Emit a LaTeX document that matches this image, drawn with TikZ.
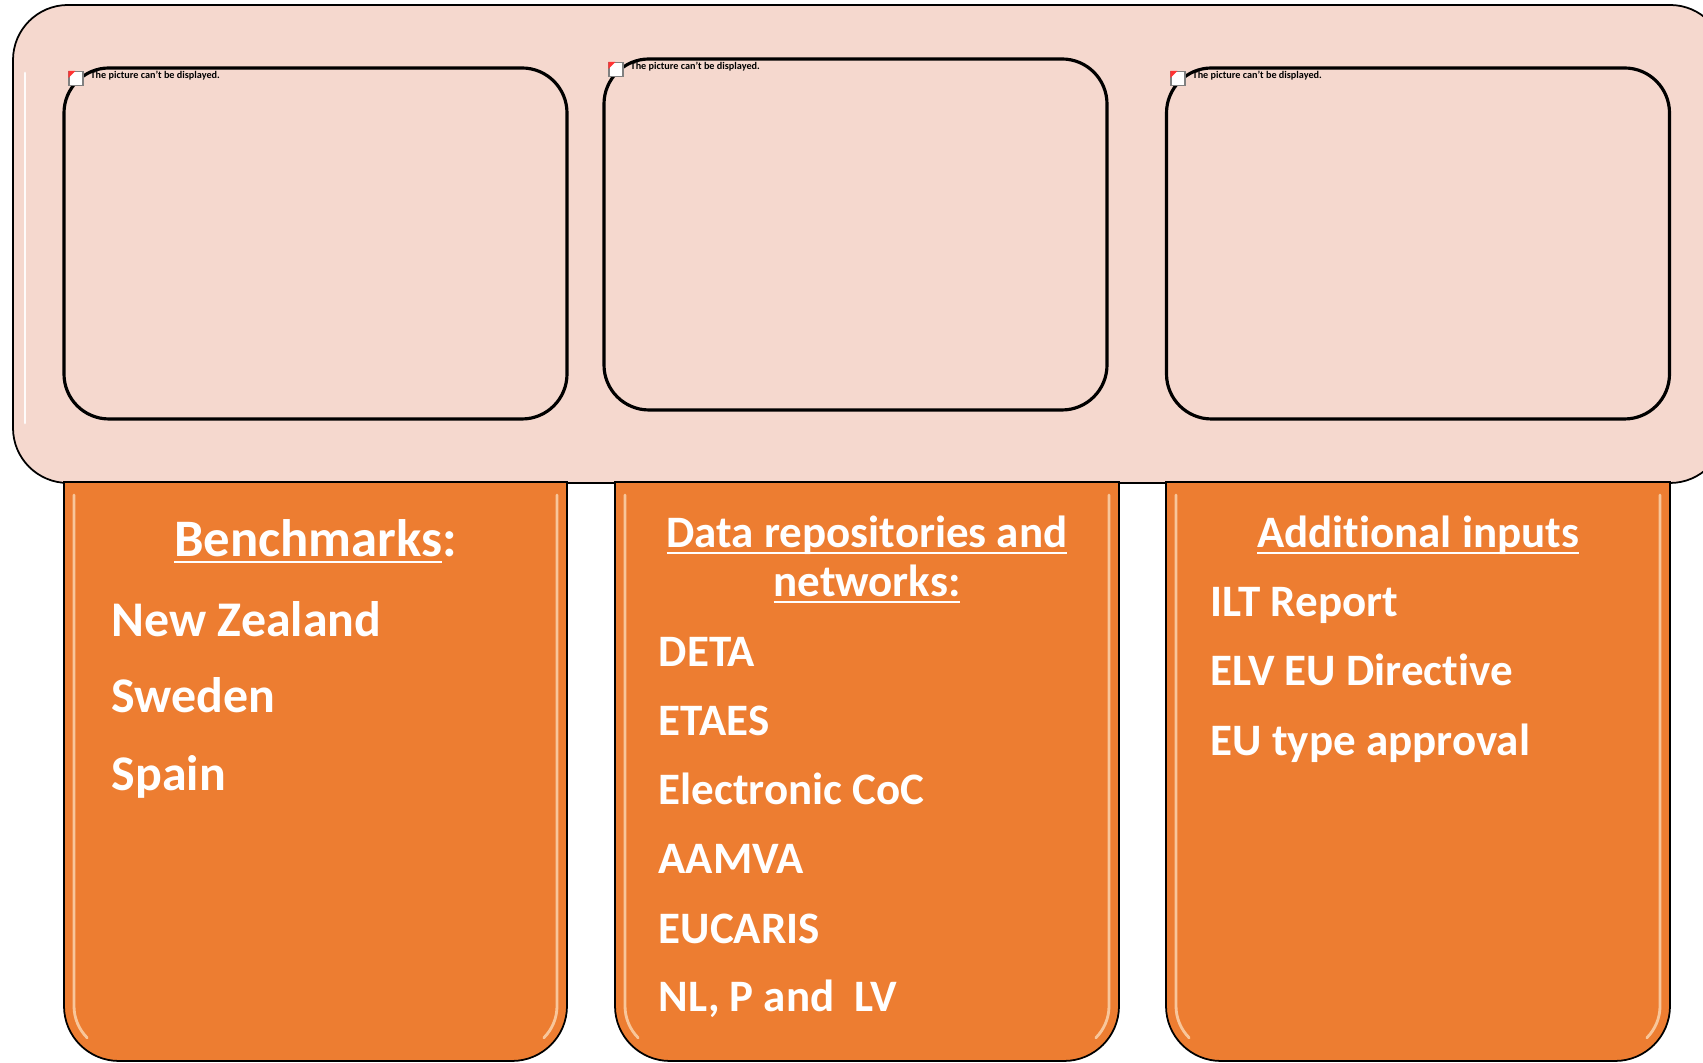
\documentclass[tikz,border=0pt]{standalone}
\usepackage{fontspec}
\setmainfont{Carlito}[Ligatures={TeX,NoCommon}]
\usepackage{xcolor}
\usepackage{tikz}

\definecolor{pale}{HTML}{F5D8CE}
\definecolor{accent}{HTML}{ED7D31}
\definecolor{gloss}{HTML}{FDE6C8}

\newcommand\uln[1]{\underline{\smash{#1}}}

\tikzset{
	frame/.style={draw=black, line width=0.5pt, fill=pale, rounded corners=0.55cm},
	picbox/.style={draw=black, line width=0.9pt, rounded corners=0.45cm, minimum width=5.03cm, minimum height=3.51cm},
	panel/.style={draw=black, line width=0.5pt, fill=accent},
	shine/.style={draw=gloss, line width=0.8pt, line cap=round, opacity=0.7},
	head/.style={text=white, font=\bfseries\fontsize{12.8}{14}\selectfont, anchor=base, inner sep=0pt},
	item/.style={text=white, font=\bfseries\fontsize{12.8}{14}\selectfont, anchor=base west, inner sep=0pt},
	large/.style={font=\bfseries\fontsize{14.2}{17}\selectfont},
	broken/.style={font=\bfseries\fontsize{2.9}{3.2}\selectfont, anchor=west, inner sep=0pt},
	icon/.style={draw=gray, fill=white, line width=0.3pt, minimum size=0.14cm, inner sep=0pt}
}

\begin{document}
\begin{tikzpicture}
		\useasboundingbox (0,0) rectangle (17.03,10.63);
		\clip (0,0) rectangle (17.03,10.63);
		% frame with the three picture boxes
		\draw
		node[frame, minimum width=17.12cm, minimum height=4.78cm] at (8.69,8.19) (frame) {}
		node[picbox] at (3.155,8.195) (pic1) {}
		node[picbox] at (8.555,8.285) (pic2) {}
		node[picbox] at (14.18,8.195) (pic3) {};
		\draw[shine, draw=white, opacity=0.9] (0.25,9.9) -- (0.25,6.4);
		\draw
		node[icon] at (0.76,9.845) (ic1) {}
		node[icon] at (6.16,9.935) (ic2) {}
		node[icon] at (11.78,9.845) (ic3) {}
		node[broken] at (0.90,9.87) (msg1) {The picture can't be displayed.}
		node[broken] at (6.30,9.96) (msg2) {The picture can't be displayed.}
		node[broken] at (11.92,9.87) (msg3) {The picture can't be displayed.};
		\fill[red!80] (ic1.north west) -- ++(0.07,0) -- ++(-0.07,-0.07) -- cycle;
		\fill[red!80] (ic2.north west) -- ++(0.07,0) -- ++(-0.07,-0.07) -- cycle;
		\fill[red!80] (ic3.north west) -- ++(0.07,0) -- ++(-0.07,-0.07) -- cycle;
		% orange panels
		\draw[panel] (0.64,5.81) -- (0.64,0.57) arc[start angle=180, end angle=270, radius=0.55] -- (5.12,0.02) arc[start angle=270, end angle=360, radius=0.55] -- (5.67,5.81) -- cycle;
		\draw[panel] (6.15,5.81) -- (6.15,0.57) arc[start angle=180, end angle=270, radius=0.55] -- (10.64,0.02) arc[start angle=270, end angle=360, radius=0.55] -- (11.19,5.81) -- cycle;
		\draw[panel] (11.66,5.81) -- (11.66,0.57) arc[start angle=180, end angle=270, radius=0.55] -- (16.15,0.02) arc[start angle=270, end angle=360, radius=0.55] -- (16.70,5.81) -- cycle;
		\draw[shine] (0.74,5.68) -- (0.74,0.57) arc[start angle=180, end angle=225, radius=0.45];
		\draw[shine] (5.57,5.68) -- (5.57,0.57) arc[start angle=0, end angle=-45, radius=0.45];
		\draw[shine] (6.25,5.68) -- (6.25,0.57) arc[start angle=180, end angle=225, radius=0.45];
		\draw[shine] (11.09,5.68) -- (11.09,0.57) arc[start angle=0, end angle=-45, radius=0.45];
		\draw[shine] (11.76,5.68) -- (11.76,0.57) arc[start angle=180, end angle=225, radius=0.45];
		\draw[shine] (16.60,5.68) -- (16.60,0.57) arc[start angle=0, end angle=-45, radius=0.45];
		% texts
		\draw
		node[head, font=\bfseries\fontsize{15}{18}\selectfont] at (3.155,5.06) (bench) {\uln{Benchmarks}:}
		node[item, large] at (1.11,4.26) (nz) {New Zealand}
		node[item, large] at (1.11,3.50) (se) {Sweden}
		node[item, large] at (1.11,2.72) (es) {Spain}
		node[head] at (8.67,5.15) (data) {\uln{Data repositories and}}
		node[head] at (8.67,4.66) (netw) {\uln{networks:}}
		node[item] at (6.58,3.96) (deta) {DETA}
		node[item] at (6.58,3.27) (etaes) {ETAES}
		node[item] at (6.58,2.58) (ecoc) {Electronic CoC}
		node[item] at (6.58,1.89) (aamva) {AAMVA}
		node[item] at (6.58,1.19) (eucaris) {EUCARIS}
		node[item] at (6.58,0.51) (nlplv) {NL, P and \ LV}
		node[head] at (14.18,5.15) (addin) {\uln{Additional inputs}}
		node[item] at (12.10,4.46) (ilt) {ILT Report}
		node[item] at (12.10,3.77) (elv) {ELV EU Directive}
		node[item] at (12.10,3.07) (eutype) {EU type approval};
\end{tikzpicture}
\end{document}
